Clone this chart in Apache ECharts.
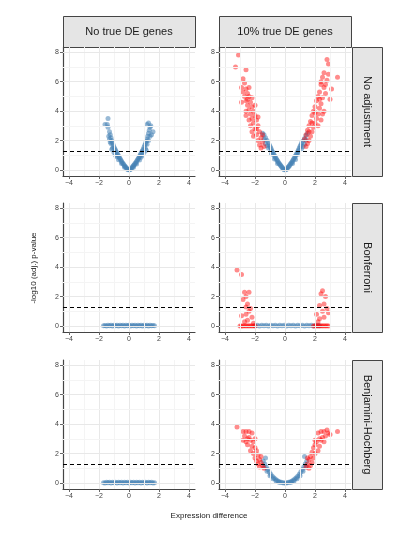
<!DOCTYPE html>
<html>
<head>
<meta charset="utf-8">
<script src="https://cdn.jsdelivr.net/npm/echarts@6/dist/echarts.min.js"></script>
<style>html,body{margin:0;padding:0;background:#fff}#chart{width:411px;height:534px}</style>
</head>
<body>
<div id="chart"></div>
<script>
// facet labels
const colLabels = ['No true DE genes', '10% true DE genes'];
const rowLabels = ['No adjustment', 'Bonferroni', 'Benjamini-Hochberg'];
const xTicks = [-4, -2, 0, 2, 4];
const yTicks = [0, 2, 4, 6, 8];
const cutoff = 1.3; // -log10(0.05)

// no DE, no adjustment
const blueA = [[-0.05,0.02],[-0.1,0.06],[-0.15,0.12],[-0.2,0.18],[-0.25,0.25],[-0.3,0.3],[-0.35,0.38],[-0.4,0.45],[-0.45,0.52],[-0.5,0.6],[-0.55,0.68],[-0.6,0.78],[-0.65,0.85],[-0.7,0.95],[-0.75,1.05],[-0.8,1.15],[-0.85,1.25],[-0.9,1.35],[-0.95,1.45],[-1.0,1.55],[-1.05,1.7],[-1.1,1.85],[-1.15,2.0],[-1.2,2.2],[-1.25,2.4],[-1.3,2.6],[-1.4,2.9],[-1.45,3.1],[-1.4,3.5],[-1.6,3.1],
  [-0.3,0.2],[-0.5,0.45],[-0.7,0.7],[-0.9,1.0],[-1.0,1.2],[-1.1,1.5],[-1.2,1.8],[-1.3,2.1],[-1.15,1.4],[-0.8,0.9],[-1.35,2.3],[-1.25,1.9],
  [0.05,0.02],[0.1,0.05],[0.15,0.11],[0.2,0.17],[0.25,0.24],[0.3,0.31],[0.35,0.37],[0.4,0.44],[0.45,0.5],[0.5,0.58],[0.55,0.66],[0.6,0.75],[0.65,0.83],[0.7,0.92],[0.75,1.02],[0.8,1.12],[0.85,1.22],[0.9,1.32],[0.95,1.42],[1.0,1.55],[1.05,1.68],[1.1,1.8],[1.15,1.95],[1.2,2.1],[1.25,2.3],[1.3,2.5],[1.35,2.7],[1.4,2.9],[1.3,3.2],[1.45,3.0],[1.6,2.6],[1.2,3.1],
  [0.3,0.2],[0.5,0.42],[0.7,0.68],[0.9,1.0],[1.0,1.2],[1.1,1.45],[1.2,1.75],[1.3,2.0],[1.15,1.35],[0.8,0.88],[1.4,2.3],[1.5,2.4]];

// 10% DE, no adjustment
const blueB = [[-0.05,0.03],[-0.1,0.07],[-0.15,0.13],[-0.2,0.2],[-0.25,0.26],[-0.3,0.33],[-0.35,0.4],[-0.4,0.47],[-0.45,0.55],[-0.5,0.63],[-0.55,0.7],[-0.6,0.8],[-0.65,0.88],[-0.7,0.98],[-0.75,1.07],[-0.8,1.17],[-0.85,1.27],[-0.9,1.38],[-0.95,1.5],[-1.0,1.6],[-1.05,1.72],[-1.1,1.85],[-1.2,2.0],[-1.3,2.2],[-1.4,2.4],[-1.5,2.5],[-1.3,1.8],[-1.1,1.5],[-0.9,1.1],[-0.7,0.75],[-0.5,0.45],[-1.2,1.65],[-1.4,2.1],
  [0.05,0.02],[0.1,0.06],[0.15,0.12],[0.2,0.19],[0.25,0.25],[0.3,0.32],[0.35,0.39],[0.4,0.46],[0.45,0.54],[0.5,0.62],[0.55,0.7],[0.6,0.79],[0.65,0.87],[0.7,0.97],[0.75,1.06],[0.8,1.16],[0.85,1.26],[0.9,1.37],[0.95,1.48],[1.0,1.6],[1.05,1.7],[1.1,1.83],[1.2,1.98],[1.3,2.15],[1.4,2.35],[1.5,2.5],[1.3,1.75],[1.1,1.45],[0.9,1.1],[0.7,0.72],[0.5,0.44],[1.2,1.6],[1.4,2.05]];
const redB = [[-3.3,7.0],[-3.1,7.8],[-2.6,6.8],[-2.8,6.2],[-2.7,5.9],[-2.9,5.6],[-2.6,5.5],[-2.5,5.2],[-2.7,5.0],[-2.4,5.0],[-2.6,4.7],[-2.3,4.6],[-2.5,4.4],[-2.2,4.3],[-2.4,4.1],[-2.6,4.0],[-2.1,4.0],[-2.3,3.8],[-2.0,3.7],[-2.2,3.5],[-2.4,3.4],[-1.9,3.4],[-2.1,3.2],[-2.3,3.0],[-1.8,3.0],[-2.0,2.8],[-2.2,2.6],[-1.7,2.6],[-1.9,2.4],[-2.1,2.3],[-1.6,2.2],[-1.8,2.0],[-1.5,1.9],[-1.7,1.7],[-1.4,1.6],[-1.6,1.5],[-2.8,5.3],[-2.5,4.8],[-2.0,4.4],[-1.8,3.6],[-2.6,3.7],[-2.9,4.6],[-2.2,4.9],[-1.9,2.8],[-1.5,2.4],[-2.4,5.6],
  [3.5,6.3],[2.8,7.5],[2.9,7.2],[2.6,6.6],[2.5,6.3],[2.8,6.1],[2.4,5.8],[2.6,5.6],[2.3,5.3],[2.7,5.2],[2.2,5.0],[2.5,4.9],[2.1,4.7],[2.4,4.5],[3.0,4.8],[2.0,4.3],[2.3,4.2],[1.9,4.0],[2.2,3.8],[2.6,4.0],[1.8,3.7],[2.1,3.5],[1.7,3.3],[2.0,3.2],[2.4,3.4],[1.6,3.0],[1.9,2.9],[1.5,2.7],[1.8,2.6],[2.2,3.0],[1.4,2.4],[1.7,2.3],[1.3,2.1],[1.6,2.0],[1.5,1.8],[1.4,1.6],[2.9,6.5],[2.7,5.8],[2.3,4.8],[2.0,3.9],[1.8,3.2],[3.1,5.5],[2.5,3.8],[1.6,2.6],[2.4,6.0]];

// Bonferroni
const blueC = [[-1.7,0.02],[-1.6,0.04],[-1.5,0.01],[-1.4,0.05],[-1.3,0.02],[-1.2,0.06],[-1.1,0.01],[-1.0,0.05],[-0.9,0.02],[-0.8,0.06],[-0.7,0.01],[-0.6,0.05],[-0.5,0.02],[-0.4,0.06],[-0.3,0.01],[-0.2,0.05],[-0.1,0.02],[0,0.06],[0.1,0.01],[0.2,0.05],[0.3,0.02],[0.4,0.06],[0.5,0.01],[0.6,0.05],[0.7,0.02],[0.8,0.06],[0.9,0.01],[1.0,0.05],[1.1,0.02],[1.2,0.06],[1.3,0.01],[1.4,0.05],[1.5,0.02],[1.6,0.04],[1.7,0.02]];
const blueD = [[-2.0,0.02],[-1.85,0.05],[-1.7,0.01],[-1.55,0.05],[-1.4,0.02],[-1.25,0.06],[-1.1,0.01],[-0.95,0.05],[-0.8,0.02],[-0.65,0.06],[-0.5,0.01],[-0.35,0.05],[-0.2,0.02],[-0.05,0.06],[0.1,0.01],[0.25,0.05],[0.4,0.02],[0.55,0.06],[0.7,0.01],[0.85,0.05],[1.0,0.02],[1.15,0.06],[1.3,0.01],[1.45,0.05],[1.6,0.02],[1.75,0.06],[1.9,0.01],[2.05,0.04],[2.2,0.02],[2.3,0.03]];
const redD = [[-2.8,0],[-2.7,0.02],[-2.6,0],[-2.5,0.02],[-2.4,0],[-2.3,0.02],[-2.2,0],[-2.1,0.02],[-2.0,0],[-3.0,0.01],[-2.9,0],[-3.2,3.8],[-2.9,3.5],[-2.7,2.3],[-2.6,2.0],[-2.5,1.5],[-2.4,1.0],[-2.6,0.8],[-2.2,0.6],[-2.8,1.8],[-2.5,0.4],[-2.3,1.2],[-2.7,0.3],[-2.1,0.2],[-2.4,2.3],[-2.9,0.7],[-2.6,1.3],
  [1.9,0],[2.0,0.02],[2.1,0],[2.2,0.02],[2.3,0],[2.4,0.02],[2.5,0],[2.6,0.02],[2.7,0],[2.8,0.02],[2.9,0],[2.3,0.5],[2.5,1.0],[2.6,1.5],[2.7,2.0],[2.4,2.2],[2.8,1.2],[2.2,0.3],[2.6,0.6],[2.9,0.9],[2.5,2.4],[2.3,1.4],[2.1,0.8]];

// Benjamini-Hochberg
const blueE = [[-1.7,0.03],[-1.6,0.01],[-1.5,0.05],[-1.4,0.02],[-1.3,0.06],[-1.2,0.01],[-1.1,0.05],[-1.0,0.02],[-0.9,0.06],[-0.8,0.01],[-0.7,0.05],[-0.6,0.02],[-0.5,0.06],[-0.4,0.01],[-0.3,0.05],[-0.2,0.02],[-0.1,0.06],[0,0.01],[0.1,0.05],[0.2,0.02],[0.3,0.06],[0.4,0.01],[0.5,0.05],[0.6,0.02],[0.7,0.06],[0.8,0.01],[0.9,0.05],[1.0,0.02],[1.1,0.06],[1.2,0.01],[1.3,0.05],[1.4,0.02],[1.5,0.06],[1.6,0.01],[1.7,0.03]];
const blueF = [[-0.05,0.01],[-0.15,0.03],[-0.25,0.05],[-0.35,0.08],[-0.45,0.13],[-0.55,0.19],[-0.65,0.27],[-0.75,0.36],[-0.85,0.47],[-0.95,0.6],[-1.05,0.75],[-1.15,0.92],[-1.25,1.1],[-1.35,1.3],[-1.45,1.5],[-1.3,1.7],[-1.2,0.8],[-1.0,0.5],[-0.8,0.3],[-0.6,0.15],[-0.4,0.06],[-1.4,1.1],
  [0.05,0.01],[0.15,0.03],[0.25,0.05],[0.35,0.08],[0.45,0.13],[0.55,0.19],[0.65,0.27],[0.75,0.36],[0.85,0.47],[0.95,0.6],[1.05,0.75],[1.15,0.92],[1.25,1.1],[1.35,1.3],[1.45,1.5],[1.3,1.8],[1.2,0.8],[1.0,0.5],[0.8,0.3],[0.6,0.15],[0.4,0.06],[1.4,1.1]];
const redF = [[-3.2,3.8],[-2.8,3.5],[-2.6,3.5],[-2.4,3.5],[-2.2,3.4],[-2.7,3.2],[-2.5,3.0],[-2.3,2.9],[-2.1,2.8],[-2.5,2.6],[-2.2,2.5],[-2.0,2.4],[-1.9,2.2],[-2.3,2.2],[-2.1,2.0],[-1.8,1.9],[-2.0,1.7],[-1.7,1.6],[-1.9,1.5],[-1.6,1.4],[-1.8,1.3],[-1.5,1.2],[-1.7,1.1],[-1.4,1.0],[-2.4,3.1],[-2.0,3.0],[-2.6,2.8],[-1.6,1.8],[-2.8,2.9],
  [3.5,3.5],[2.8,3.6],[2.6,3.5],[2.4,3.5],[2.2,3.4],[3.0,3.3],[2.5,3.1],[2.3,3.0],[2.1,2.8],[2.6,2.8],[2.0,2.6],[2.3,2.5],[1.9,2.4],[2.2,2.2],[1.8,2.1],[2.0,2.0],[1.7,1.8],[1.9,1.7],[1.6,1.6],[1.8,1.4],[1.5,1.3],[1.7,1.2],[1.4,1.1],[1.6,1.0],[2.4,2.9],[2.7,3.2],[2.0,2.9],[1.5,1.7],[2.9,3.4]];

const panels = [
  {blue: blueA, red: []}, {blue: blueB, red: redB},
  {blue: blueC, red: []}, {blue: blueD, red: redD},
  {blue: blueE, red: []}, {blue: blueF, red: redF}
];

const FONT = 'Liberation Sans';
const lefts = [63, 219], tops = [47, 203, 360], W = 132, H = 129;

let grid = [], xAxis = [], yAxis = [], series = [];
panels.forEach((p, i) => {
  let r = Math.floor(i / 2), c = i % 2;
  grid.push({left: lefts[c], top: tops[r], width: W, height: H});
  xAxis.push({
    gridIndex: i, type: 'value', min: -4.4, max: 4.4,
    axisLine: {onZero: false, lineStyle: {color: '#444', width: 1.2}},
    axisTick: {customValues: xTicks, length: 3, lineStyle: {color: '#666'}},
    axisLabel: {customValues: xTicks, fontSize: 7, color: '#444', fontFamily: FONT, margin: 4,
      formatter: v => v < 0 ? '\u2212' + Math.abs(v) : v},
    splitLine: {show: false}
  });
  yAxis.push({
    gridIndex: i, type: 'value', min: -0.4, max: 8.35,
    axisLine: {show: true, onZero: false, lineStyle: {color: '#444', width: 1.2}},
    axisTick: {show: true, customValues: yTicks, length: 3, lineStyle: {color: '#666'}},
    axisLabel: {customValues: yTicks, fontSize: 7, color: '#444', fontFamily: FONT, margin: 4},
    splitLine: {show: false}
  });
  let gridLines = [];
  [-4, -3, -2, -1, 0, 1, 2, 3, 4].forEach(v => gridLines.push({xAxis: v, lineStyle: {color: v % 2 ? '#f4f4f4' : '#e8e8e8'}}));
  [1, 2, 3, 4, 5, 6, 7, 8].forEach(v => gridLines.push({yAxis: v, lineStyle: {color: v % 2 ? '#f4f4f4' : '#e8e8e8'}}));
  gridLines.push({yAxis: 0, lineStyle: {color: '#e8e8e8'}});
  series.push({
    type: 'scatter', xAxisIndex: i, yAxisIndex: i, data: [], silent: true,
    markLine: {silent: true, symbol: 'none', label: {show: false}, animation: false,
      lineStyle: {type: 'solid', width: 1}, data: gridLines}
  });
  series.push({
    type: 'scatter', xAxisIndex: i, yAxisIndex: i, data: p.blue, symbolSize: 5,
    itemStyle: {color: '#4682B4', opacity: 0.55, borderWidth: 0}, animation: false
  });
  series.push({
    type: 'scatter', xAxisIndex: i, yAxisIndex: i, data: p.red, symbolSize: 5,
    itemStyle: {color: '#FF0000', opacity: 0.45, borderWidth: 0}, animation: false,
    markLine: {silent: true, symbol: 'none', label: {show: false}, animation: false,
      lineStyle: {type: [4, 3], color: '#000', width: 1}, data: [{yAxis: cutoff}]}
  });
});

let graphic = [];
colLabels.forEach((t, c) => {
  graphic.push({type: 'rect', left: lefts[c], top: 16, shape: {width: W, height: 31},
    style: {fill: '#e5e5e5', stroke: '#444', lineWidth: 1}});
  graphic.push({type: 'text', x: lefts[c] + W / 2, y: 31.5,
    style: {text: t, fill: '#1a1a1a', font: '11px ' + FONT, align: 'center', verticalAlign: 'middle'}});
});
rowLabels.forEach((t, r) => {
  graphic.push({type: 'rect', left: 352, top: tops[r], shape: {width: 30, height: H},
    style: {fill: '#e5e5e5', stroke: '#444', lineWidth: 1}});
  graphic.push({type: 'text', x: 367, y: tops[r] + H / 2, rotation: -Math.PI / 2,
    style: {text: t, fill: '#1a1a1a', font: '11px ' + FONT, align: 'center', verticalAlign: 'middle'}});
});
graphic.push({type: 'text', x: 209, y: 516,
  style: {text: 'Expression difference', fill: '#1a1a1a', font: '8px ' + FONT, align: 'center', verticalAlign: 'middle'}});
graphic.push({type: 'text', x: 34, y: 268, rotation: Math.PI / 2,
  style: {text: '-log10 (adj.) p-value', fill: '#1a1a1a', font: '8px ' + FONT, align: 'center', verticalAlign: 'middle'}});

let chart = echarts.init(document.getElementById('chart'), null, {renderer: 'canvas'});
chart.setOption({animation: false, grid, xAxis, yAxis, series, graphic});
</script>
</body>
</html>
